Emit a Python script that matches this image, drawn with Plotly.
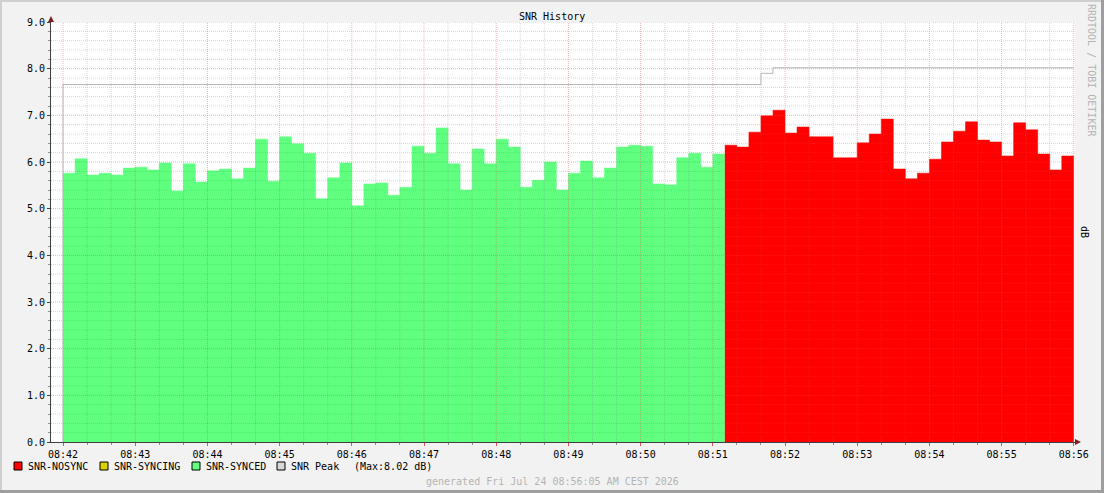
import plotly.graph_objects as go
import pandas as pd

# samples every 10 s, starting 08:42:00
start_time = "2026-07-24 08:42:00"
step_seconds = 10

snr_synced = [5.76, 6.07, 5.72, 5.76, 5.72, 5.87, 5.89, 5.83, 5.98, 5.38,
              5.96, 5.57, 5.81, 5.85, 5.64, 5.87, 6.49, 5.59, 6.54, 6.39,
              6.19, 5.21, 5.66, 5.98, 5.06, 5.53, 5.55, 5.29, 5.46, 6.34,
              6.19, 6.73, 5.96, 5.40, 6.28, 5.96, 6.49, 6.32, 5.46, 5.61,
              6.00, 5.40, 5.76, 6.02, 5.66, 5.87, 6.32, 6.36, 6.34, 5.53,
              5.51, 6.09, 6.19, 5.89, 6.17]
snr_nosync = [6.36, 6.32, 6.64, 6.99, 7.11, 6.62, 6.75, 6.54, 6.54, 6.09,
              6.09, 6.41, 6.60, 6.92, 5.85, 5.64, 5.76, 6.06, 6.43, 6.66,
              6.86, 6.47, 6.43, 6.13, 6.84, 6.69, 6.17, 5.83, 6.13]

# SNR peak is a step line: level changes at these times
peak_times = ["2026-07-24 08:42:00", "2026-07-24 08:42:00", "2026-07-24 08:51:40",
              "2026-07-24 08:51:50", "2026-07-24 08:56:00"]
peak_values = [0, 7.66, 7.90, 8.02, 8.02]

x_start = "2026-07-24 08:41:50"
x_end = "2026-07-24 08:56:01"
tick_start = "2026-07-24 08:42:00"

legend_items = [("SNR-NOSYNC", "#ff0000"), ("SNR-SYNCING", "#d8d000"),
                ("SNR-SYNCED", "#60ff80"), ("SNR Peak", "#d8d8d8")]

t0 = pd.Timestamp(start_time)
step = pd.Timedelta(seconds=step_seconds)
n0 = len(snr_synced)
# step areas: one point per sample start plus the closing edge
synced_x = [t0 + step * i for i in range(n0 + 1)]
synced_y = snr_synced + snr_synced[-1:]
nosync_x = [t0 + step * (n0 + i) for i in range(len(snr_nosync) + 1)]
nosync_y = snr_nosync + snr_nosync[-1:]

W, H = 1104, 493
L, R, T, B = 51, 1075, 22, 442


def fx(px):
    return (px - L) / (R - L)


def fy(py):
    return (B - py) / (B - T)


fig = go.Figure()

fig.add_trace(go.Scatter(x=synced_x, y=synced_y, mode="lines", fill="tozeroy",
                         fillcolor="#60ff80", line=dict(color="#60ff80", width=0.5, shape="hv"),
                         name="SNR-SYNCED"))
fig.add_trace(go.Scatter(x=nosync_x, y=nosync_y, mode="lines", fill="tozeroy",
                         fillcolor="#ff0000", line=dict(color="#ff0000", width=0.5, shape="hv"),
                         name="SNR-NOSYNC"))

# grid drawn on top of the areas, like rrdtool does
xs = pd.Timestamp(x_start)
xe = pd.Timestamp(x_end)
minor_gx, minor_gy, major_gx, major_gy = [], [], [], []
t = pd.Timestamp(tick_start)
while t <= xe:
    if t.second == 0:
        major_gx += [t, t, None]
        major_gy += [0, 9, None]
    else:
        minor_gx += [t, t, None]
        minor_gy += [0, 9, None]
    t += pd.Timedelta(seconds=20)
for k in range(1, 46):
    v = k * 0.2
    if k % 5 == 0:
        major_gx += [xs, xe, None]
        major_gy += [v, v, None]
    else:
        minor_gx += [xs, xe, None]
        minor_gy += [v, v, None]

fig.add_trace(go.Scatter(x=minor_gx, y=minor_gy, mode="lines", hoverinfo="skip",
                         line=dict(color="rgba(120,120,120,0.3)", width=1, dash="1px,1px")))
fig.add_trace(go.Scatter(x=major_gx, y=major_gy, mode="lines", hoverinfo="skip",
                         line=dict(color="rgba(222,79,79,0.42)", width=1, dash="1px,1px")))

fig.add_trace(go.Scatter(x=pd.to_datetime(peak_times), y=peak_values, mode="lines",
                         line=dict(color="#b8b8b8", width=1, shape="hv"),
                         name="SNR Peak"))

mono = "DejaVu Sans Mono"
shapes = []
annotations = []

# arrows at axis ends
shapes.append(dict(type="path", xref="paper", yref="paper", xsizemode="pixel", ysizemode="pixel",
                   xanchor=0, yanchor=1, path="M -3,0 L 3,0 L 0,6 Z",
                   fillcolor="#801f1f", line=dict(width=0)))
shapes.append(dict(type="path", xref="paper", yref="paper", xsizemode="pixel", ysizemode="pixel",
                   xanchor=1, yanchor=0, path="M 0,-3 L 0,3 L 6,0 Z",
                   fillcolor="#801f1f", line=dict(width=0)))
shapes.append(dict(type="line", xref="paper", yref="paper", x0=1, x1=fx(1079), y0=0, y1=0,
                   line=dict(color="#801f1f", width=1)))

# frame
shapes.append(dict(type="line", xref="paper", yref="paper", x0=fx(0), x1=fx(W), y0=fy(1), y1=fy(1),
                   line=dict(color="#cfcfcf", width=2)))
shapes.append(dict(type="line", xref="paper", yref="paper", x0=fx(1), x1=fx(1), y0=fy(0), y1=fy(H),
                   line=dict(color="#cfcfcf", width=2)))
shapes.append(dict(type="line", xref="paper", yref="paper", x0=fx(W - 1.5), x1=fx(W - 1.5), y0=fy(0), y1=fy(H),
                   line=dict(color="#9e9e9e", width=3)))
shapes.append(dict(type="line", xref="paper", yref="paper", x0=fx(0), x1=fx(W), y0=fy(H - 1.5), y1=fy(H - 1.5),
                   line=dict(color="#9e9e9e", width=3)))


def label(x, y, text, color="#000000", angle=0, anchor="center"):
    return dict(x=fx(x), y=fy(y), xref="paper", yref="paper", text=text, showarrow=False,
                xanchor=anchor, yanchor="middle", textangle=angle,
                font=dict(family=mono, size=10, color=color))


# legend row
legend_x = [14, 100, 192, 277]
for (name, color), lx in zip(legend_items, legend_x):
    shapes.append(dict(type="rect", xref="paper", yref="paper",
                       x0=fx(lx), x1=fx(lx + 8), y0=fy(462), y1=fy(470),
                       fillcolor=color, line=dict(color="#000000", width=1)))
    annotations.append(label(lx + 12, 466, name, anchor="left"))
annotations.append(label(352, 466, "(Max:%.2f dB)" % max(peak_values), anchor="left"))

annotations.append(label(552, 16, "SNR History"))
annotations.append(label(1092, 70, "RRDTOOL / TOBI OETIKER", color="#b4b4b4", angle=90))
annotations.append(label(1085, 232, "dB", angle=90))
annotations.append(label(552, 481, "generated Fri Jul 24 08:56:05 AM CEST 2026", color="#b4b4b4"))

fig.update_layout(
    width=W, height=H,
    margin=dict(l=L, r=W - R, t=T, b=H - B, pad=0),
    paper_bgcolor="#f2f2f2",
    plot_bgcolor="#ffffff",
    showlegend=False,
    hovermode="x",
    shapes=shapes,
    annotations=annotations,
    font=dict(family=mono, size=10, color="#000000"),
)
fig.update_xaxes(
    type="date", range=[xs, xe], showgrid=False, zeroline=False,
    tickformat="%H:%M", tick0=tick_start, dtick=60000,
    showline=True, linecolor="#404040", linewidth=1,
    ticks="outside", ticklen=3, tickcolor="#e05050",
    minor=dict(ticks="outside", ticklen=2, dtick=20000, tick0=tick_start, tickcolor="#909090", showgrid=False),
    tickfont=dict(family=mono, size=10, color="#000000"),
)
fig.update_yaxes(
    range=[0, 9], showgrid=False, zeroline=False,
    tickformat=".1f", dtick=1, tick0=0,
    showline=True, linecolor="#404040", linewidth=1,
    ticks="outside", ticklen=3, tickcolor="#404040",
    minor=dict(ticks="outside", ticklen=2, dtick=0.2, tickcolor="#909090", showgrid=False),
    tickfont=dict(family=mono, size=10, color="#000000"),
)

fig.write_html("out.html", config={"displayModeBar": False},
               post_script="document.body.style.margin='0';")
